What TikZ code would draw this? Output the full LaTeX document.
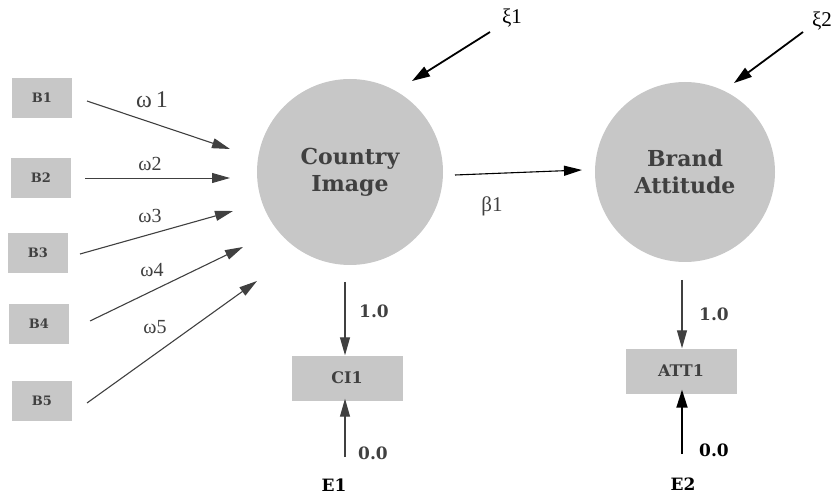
\documentclass[tikz,border=0pt]{standalone}
\usepackage{fontspec}
\setmainfont{Liberation Serif}
\newfontfamily\boldserif{DejaVu Serif}
\usetikzlibrary{arrows.meta}
\definecolor{shade}{gray}{0.78}
\definecolor{ink}{gray}{0.25}
\begin{document}
\begin{tikzpicture}[x=1pt,y=-1pt,
  indicator/.style={fill=shade,minimum width=60pt,minimum height=40pt,inner sep=0pt,
    font=\boldserif\bfseries\fontsize{13}{13}\selectfont,text=ink},
  obsbox/.style={fill=shade,minimum width=111pt,minimum height=45pt,inner sep=0pt,
    font=\boldserif\bfseries\fontsize{16}{16}\selectfont,text=ink},
  latent/.style={circle,fill=shade,inner sep=0pt,align=center,
    font=\boldserif\bfseries\fontsize{22}{27}\selectfont,text=ink},
  path/.style={draw=ink,line width=1.1pt,-{Triangle[length=18pt,width=10pt]}},
  errpath/.style={draw=black,line width=1.8pt,-{Triangle[length=18pt,width=11pt]}},
  coef/.style={font=\fontsize{20}{20}\selectfont,text=ink},
  load/.style={font=\boldserif\bfseries\fontsize{17}{17}\selectfont,text=ink},
  errlab/.style={font=\boldserif\bfseries\fontsize{17}{17}\selectfont},
  greek/.style={font=\fontsize{21}{21}\selectfont}]
\useasboundingbox (0,0) rectangle (836,497);

% formative indicators
\node[indicator] (b1) at (42,98) {B1};
\node[indicator] (b2) at (41,178) {B2};
\node[indicator] (b3) at (38,253) {B3};
\node[indicator] (b4) at (39,324) {B4};
\node[indicator] (b5) at (42,401) {B5};

% latent constructs
\node[latent,minimum size=186pt] (ci) at (350,172) {Country\\Image};
\node[latent,minimum size=180pt] (ba) at (685,172) {Brand\\Attitude};

% measured items
\node[obsbox] (ci1) at (347,378) {CI1};
\node[obsbox] (att1) at (681,371) {ATT1};

% free arrow ends
\coordinate (w1s) at (87,101);  \coordinate (w1e) at (230,149);
\coordinate (w2s) at (85,178);  \coordinate (w2e) at (230,178);
\coordinate (w3s) at (80,254);  \coordinate (w3e) at (233,211);
\coordinate (w4s) at (90,321);  \coordinate (w4e) at (243,247);
\coordinate (w5s) at (87,403);  \coordinate (w5e) at (257,281);
\coordinate (z1s) at (490,32);  \coordinate (z1e) at (412,81);
\coordinate (z2s) at (803,32);  \coordinate (z2e) at (734,83);
\coordinate (b1s) at (455,175); \coordinate (b1e) at (582,170);
\coordinate (l1s) at (345,282); \coordinate (l2s) at (682,280);
\coordinate (e1s) at (345,457); \coordinate (e2s) at (682,454);

% structural paths
\draw[path] (w1s) -- (w1e);
\draw[path,line width=0.9pt] (w2s) -- (w2e);
\draw[path] (w3s) -- (w3e);
\draw[path] (w4s) -- (w4e);
\draw[path] (w5s) -- (w5e);
\draw[path,draw=black] (b1s) -- (b1e);
\draw[errpath] (z1s) -- (z1e);
\draw[errpath] (z2s) -- (z2e);

% measurement paths
\draw[path] (l1s) -- (ci1.north -| l1s);
\draw[path] (l2s) -- (att1.north -| l2s);
\draw[path] (e1s) -- ([yshift=2pt]ci1.south -| e1s);
\draw[errpath] (e2s) -- ([yshift=4pt]att1.south -| e2s);

% coefficients
\node[coef,font=\fontsize{24}{24}\selectfont] (lw1) at (152,100) {ω\,1};
\node[coef] (lw2) at (150,164) {ω2};
\node[coef] (lw3) at (150,216) {ω3};
\node[coef] (lw4) at (152,270) {ω4};
\node[coef] (lw5) at (155,327) {ω5};
\node[greek] (lz1) at (512,18) {ξ1};
\node[greek] (lz2) at (822,21) {ξ2};
\node[greek,text=ink] (lb1) at (492,206) {β1};

\node[load] (l1) at (374,311) {1.0};
\node[load] (l2) at (714,314) {1.0};
\node[load] (l3) at (373,453) {0.0};
\node[load,text=black] (l4) at (714,450) {0.0};
\node[errlab] (e1) at (334,485) {E1};
\node[errlab] (e2) at (683,484) {E2};
\end{tikzpicture}
\end{document}
